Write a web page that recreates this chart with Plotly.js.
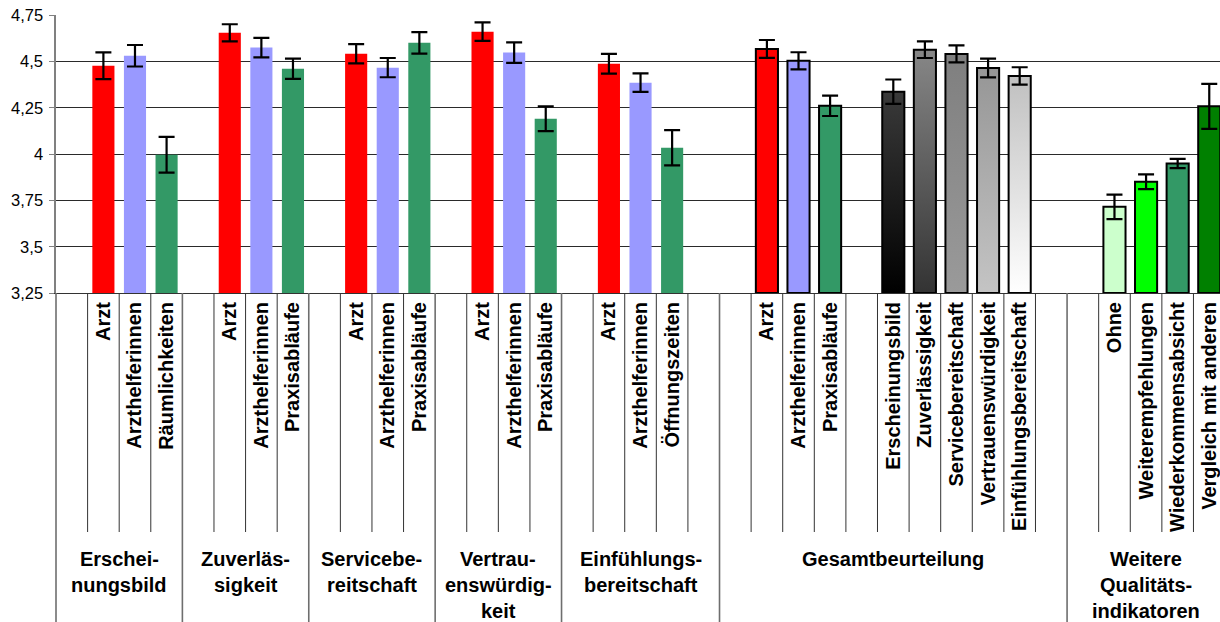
<!DOCTYPE html>
<html><head><meta charset="utf-8">
<script src="https://cdn.plot.ly/plotly-3.0.1.min.js"></script>
<style>html,body{margin:0;padding:0;background:#fff;} #chart{width:1220px;height:622px;}</style>
</head><body><div id="chart"></div>
<script>
// ---- data ----
const categories = [
  "", "Arzt", "Arzthelferinnen", "Räumlichkeiten",
  "", "Arzt", "Arzthelferinnen", "Praxisabläufe",
  "", "Arzt", "Arzthelferinnen", "Praxisabläufe",
  "", "Arzt", "Arzthelferinnen", "Praxisabläufe",
  "", "Arzt", "Arzthelferinnen", "Öffnungszeiten", "",
  "", "Arzt", "Arzthelferinnen", "Praxisabläufe", "", "Erscheinungsbild", "Zuverlässigkeit", "Servicebereitschaft", "Vertrauenswürdigkeit", "Einfühlungsbereitschaft", "",
  "", "Ohne", "Weiterempfehlungen", "Wiederkommensabsicht", "Vergleich mit anderen"
];
const means = [
  null, 4.476, 4.530, 3.996,
  null, 4.654, 4.574, 4.460,
  null, 4.541, 4.466, 4.600,
  null, 4.660, 4.547, 4.190,
  null, 4.487, 4.385, 4.034, null,
  null, 4.567, 4.503, 4.260, null, 4.336, 4.563, 4.540, 4.464, 4.421, null,
  null, 3.715, 3.850, 3.949, 4.257
];
const errors = [
  null, 0.072, 0.058, 0.096,
  null, 0.046, 0.053, 0.055,
  null, 0.052, 0.052, 0.058,
  null, 0.050, 0.055, 0.067,
  null, 0.053, 0.050, 0.095, null,
  null, 0.048, 0.046, 0.055, null, 0.066, 0.045, 0.046, 0.051, 0.047, null,
  null, 0.066, 0.040, 0.025, 0.121
];
const groupLabels = [
  "Erschei-<br>nungsbild", "Zuverläs-<br>sigkeit", "Servicebe-<br>reitschaft",
  "Vertrau-<br>enswürdig-<br>keit", "Einfühlungs-<br>bereitschaft",
  "Gesamtbeurteilung", "Weitere<br>Qualitäts-<br>indikatoren"
];
const groupSizes = [4, 4, 4, 4, 5, 11, 5];
const yTickVals = [3.25, 3.5, 3.75, 4, 4.25, 4.5, 4.75];
const yTickText = ["3,25", "3,5", "3,75", "4", "4,25", "4,5", "4,75"];

// ---- styles ----
const RED = "#FF0000", LAV = "#9999FF", SEA = "#339966";
const barColors = [
  null, RED, LAV, SEA,
  null, RED, LAV, SEA,
  null, RED, LAV, SEA,
  null, RED, LAV, SEA,
  null, RED, LAV, SEA, null,
  null, RED, LAV, SEA, null, "grad", "grad", "grad", "grad", "grad", null,
  null, "#CCFFCC", "#00FF00", "#339966", "#008000"
];
const gradientStops = [
  ["#3a3a3a", "#000000"],
  ["#878787", "#333333"],
  ["#7f7f7f", "#9a9a9a"],
  ["#969696", "#c4c4c4"],
  ["#c0c0c0", "#ffffff"]
];
const Y_MIN = 3.25, Y_MAX = 4.75;
const X_RANGE = [-0.5, 36.34];
const FONT = "Liberation Sans, Arial, sans-serif";

// group index for each slot
const groupOf = [];
groupSizes.forEach((n, g) => { for (let i = 0; i < n; i++) groupOf.push(g); });

const solid = {x: [], y: [], e: [], c: [], w: []};
const grad = {x: [], y: [], e: []};
means.forEach((v, i) => {
  if (v === null) return;
  if (barColors[i] === "grad") {
    grad.x.push(i); grad.y.push(v); grad.e.push(errors[i]);
  } else {
    solid.x.push(i); solid.y.push(v); solid.e.push(errors[i]);
    solid.c.push(barColors[i]); solid.w.push(groupOf[i] >= 5 ? 2 : 0);
  }
});

const errStyle = {type: "data", visible: true, color: "#000", thickness: 2.2, width: 8};
const traces = [
  {type: "bar", x: solid.x, y: solid.y, base: Y_MIN, width: 0.7,
   marker: {color: solid.c, line: {color: "#000", width: solid.w}},
   error_y: Object.assign({array: solid.e}, errStyle), hoverinfo: "skip"},
  {type: "bar", x: grad.x, y: grad.y, base: Y_MIN, width: 0.7,
   marker: {color: "#808080", line: {color: "#000", width: 2}},
   error_y: Object.assign({array: grad.e}, errStyle), hoverinfo: "skip"}
];
// base given -> y is the length above the base
traces.forEach(t => { t.y = t.y.map(v => v - Y_MIN); });

const tickVals = [], tickText = [];
categories.forEach((c, i) => { if (c) { tickVals.push(i); tickText.push(c); } });

// layout geometry helpers
const plotTop = 15, plotBottom = 293, H = 622;
const plotH = plotBottom - plotTop;
const py = px => -(px - plotBottom) / plotH;  // pixel below axis -> paper y
const pxX = v => (v - X_RANGE[0]) / (X_RANGE[1] - X_RANGE[0]);

const shapes = [];
const groupStarts = [];
let acc = 0;
groupSizes.forEach(n => { groupStarts.push(acc); acc += n; });
for (let k = 0; k < categories.length; k++) {
  const isGroup = groupStarts.includes(k);
  shapes.push({type: "line", xref: "paper", yref: "paper",
    x0: pxX(k - 0.5), x1: pxX(k - 0.5), y0: 0, y1: isGroup ? py(H + 2) : py(532),
    line: {color: isGroup ? "#6e6e6e" : "#333", width: isGroup ? 1.6 : 1}});
}

const annotations = [];
const LINE_H = 26;
groupLabels.forEach((lab, g) => {
  const start = groupStarts[g], end = start + groupSizes[g];
  const cx = (start + end - 1) / 2;
  lab.split("<br>").forEach((line, j) => {
    annotations.push({xref: "x", yref: "paper", x: cx, y: py(559 + j * LINE_H),
      text: line, showarrow: false, xanchor: "center", yanchor: "middle",
      font: {family: FONT, size: 20, weight: "bold", color: "#000"}});
  });
});
// y-axis tick labels (placed close to the axis like the original)
yTickVals.forEach((v, i) => {
  annotations.push({xref: "paper", yref: "y", x: 0, y: v, xanchor: "right", yanchor: "middle",
    xshift: -11, text: yTickText[i], showarrow: false,
    font: {family: FONT, size: 16.5, color: "#000"}});
});

const layout = {
  width: 1220, height: 622,
  margin: {l: 56, r: 0, t: plotTop, b: H - plotBottom, pad: 0},
  paper_bgcolor: "#fff", plot_bgcolor: "#fff",
  barmode: "overlay", showlegend: false,
  font: {family: FONT, color: "#000"},
  xaxis: {range: X_RANGE, tickvals: tickVals, ticktext: tickText, tickangle: -90,
    tickfont: {family: FONT, size: 20, weight: "bold", color: "#000"},
    showgrid: false, zeroline: false, showline: true, linecolor: "#333", linewidth: 1,
    ticks: "", fixedrange: true},
  yaxis: {range: [Y_MIN, Y_MAX], tickvals: yTickVals, showticklabels: false,
    showgrid: true, gridcolor: "#2a2a2a", gridwidth: 1, zeroline: false,
    showline: true, linecolor: "#808080", linewidth: 2,
    ticks: "outside", ticklen: 5, tickcolor: "#808080", tickwidth: 1, fixedrange: true},
  shapes: shapes,
  annotations: annotations
};

Plotly.newPlot("chart", traces, layout, {staticPlot: true}).then(gd => {
  const NS = "http://www.w3.org/2000/svg";
  const svg = gd.querySelector("svg.main-svg");
  let defs = svg.querySelector("defs");
  if (!defs) { defs = document.createElementNS(NS, "defs"); svg.insertBefore(defs, svg.firstChild); }
  const barTraces = gd.querySelectorAll(".barlayer .trace");
  const paths = barTraces[1].querySelectorAll(".point path");
  gradientStops.forEach((st, j) => {
    const lg = document.createElementNS(NS, "linearGradient");
    lg.setAttribute("id", "bargrad" + j);
    lg.setAttribute("x1", "0"); lg.setAttribute("y1", "0");
    lg.setAttribute("x2", "0"); lg.setAttribute("y2", "1");
    [[0, st[0]], [1, st[1]]].forEach(([o, c]) => {
      const s = document.createElementNS(NS, "stop");
      s.setAttribute("offset", o); s.setAttribute("stop-color", c);
      lg.appendChild(s);
    });
    defs.appendChild(lg);
    if (paths[j]) paths[j].style.fill = "url(#bargrad" + j + ")";
  });
});
</script>
</body></html>
